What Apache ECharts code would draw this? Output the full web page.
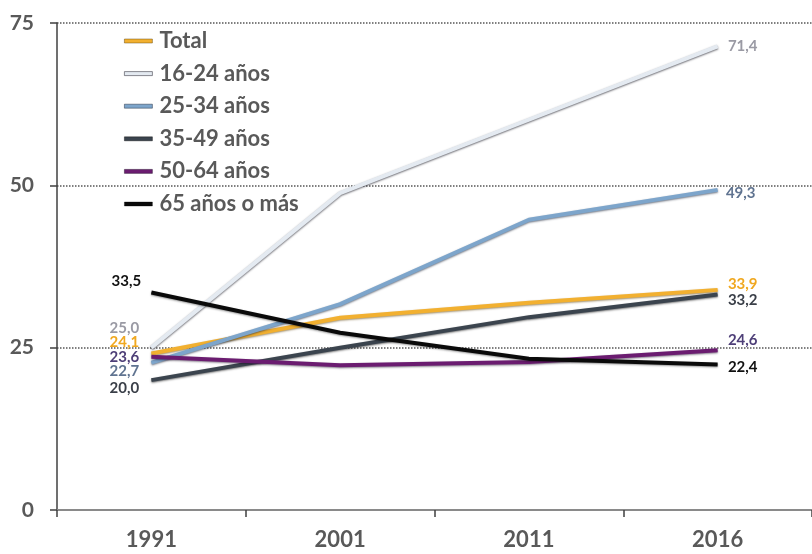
<!DOCTYPE html>
<html>
<head>
<meta charset="utf-8">
<script src="https://cdn.jsdelivr.net/npm/echarts@6/dist/echarts.min.js"></script>
<style>
  html, body { margin: 0; padding: 0; background: #fff; }
  #chart { width: 812px; height: 554px; }
</style>
</head>
<body>
<div id="chart"></div>
<script>
// Census years
const years = ['1991', '2001', '2011', '2016'];

// Series values (percent)
const total     = [24.1, 29.6, 31.9, 33.9];
const age16_24  = [25.0, 48.8, 60.1, 71.4];
const age25_34  = [22.7, 31.7, 44.7, 49.3];
const age35_49  = [20.0, 25.0, 29.7, 33.2];
const age50_64  = [23.6, 22.3, 22.8, 24.6];
const age65plus = [33.5, 27.3, 23.3, 22.4];

const yTicks = [0, 25, 50, 75];

// Styling per series: line colour, edge shadow, label colour, label offsets at both ends
const seriesDefs = [
  { name: 'Total',         data: total,     color: '#f2b030', shadow: 'rgba(90,60,0,0.55)',  label: '#f0a820', first: [-12, -11], last: [10, -6] },
  { name: '16-24 años',    data: age16_24,  color: '#e4eaf1', shadow: 'rgba(60,60,70,0.75)', label: '#9a9aa4', first: [-12, -20], last: [10, 0] },
  { name: '25-34 años',    data: age25_34,  color: '#7da5cb', shadow: 'rgba(30,40,60,0.6)',  label: '#5f7390', first: [-12, 9],   last: [8, 3] },
  { name: '35-49 años',    data: age35_49,  color: '#3b444e', shadow: 'rgba(0,0,0,0.5)',     label: '#3a3f48', first: [-12, 8],   last: [10, 6] },
  { name: '50-64 años',    data: age50_64,  color: '#6b1c70', shadow: 'rgba(20,0,30,0.5)',   label: '#4e3f78', first: [-12, 0],   last: [10, -10] },
  { name: '65 años o más', data: age65plus, color: '#0a0a0a', shadow: 'rgba(0,0,0,0.4)',     label: '#111111', first: [-10, -11], last: [10, 3] }
];

const fmt = v => v.toFixed(1).replace('.', ',');
const FONT = 'Lato, "Open Sans", sans-serif';

const series = seriesDefs.map(d => ({
  name: d.name,
  type: 'line',
  symbol: 'circle',
  symbolSize: 0.5,
  showSymbol: true,
  smooth: false,
  z: 3,
  lineStyle: {
    color: d.color,
    width: 4,
    shadowColor: d.shadow,
    shadowBlur: 2,
    shadowOffsetY: 1
  },
  itemStyle: { color: d.color },
  label: { show: false },
  data: d.data.map((v, i) => {
    const last = d.data.length - 1;
    if (i === 0 || i === last) {
      const off = i === 0 ? d.first : d.last;
      return {
        value: v,
        label: {
          show: true,
          position: i === 0 ? 'left' : 'right',
          distance: 0,
          offset: off,
          formatter: () => fmt(v),
          color: d.label,
          fontFamily: FONT,
          fontWeight: 'bold',
          fontSize: 15
        }
      };
    }
    return v;
  })
}));

const chart = echarts.init(document.getElementById('chart'), null, { renderer: 'canvas' });
chart.setOption({
  animation: false,
  backgroundColor: '#ffffff',
  grid: { left: 57, right: -13, top: 23, bottom: 44, containLabel: false },
  legend: {
    orient: 'vertical',
    left: 119,
    top: 24,
    icon: 'rect',
    itemWidth: 28,
    itemHeight: 4,
    itemGap: 8.6,
    data: seriesDefs.map(d => ({
      name: d.name,
      itemStyle: { color: d.color, borderColor: d.shadow, borderWidth: 0.8, opacity: 1 }
    })),
    textStyle: {
      color: '#595959',
      fontFamily: FONT,
      fontWeight: 'bold',
      fontSize: 22,
      lineHeight: 24,
      padding: [0, 0, 0, 2]
    }
  },
  xAxis: {
    type: 'category',
    data: years,
    boundaryGap: true,
    axisLine: { lineStyle: { color: '#8a8a8a', width: 2 } },
    axisTick: { show: true, length: 7, lineStyle: { color: '#404040', width: 1.5 } },
    axisLabel: {
      color: '#595959',
      fontFamily: FONT,
      fontWeight: 'bold',
      fontSize: 22,
      margin: 19
    },
    splitLine: { show: false }
  },
  yAxis: {
    type: 'value',
    min: yTicks[0],
    max: yTicks[yTicks.length - 1],
    interval: 25,
    axisLine: { show: true, lineStyle: { color: '#404040', width: 1.5 } },
    axisTick: { show: true, length: 7, lineStyle: { color: '#404040', width: 1.5 } },
    axisLabel: {
      color: '#595959',
      fontFamily: FONT,
      fontWeight: 'bold',
      fontSize: 21,
      margin: 23
    },
    splitLine: {
      show: true,
      lineStyle: { color: '#555555', width: 1.5, type: [1.5, 1.5] }
    }
  },
  series: series
});
</script>
</body>
</html>
